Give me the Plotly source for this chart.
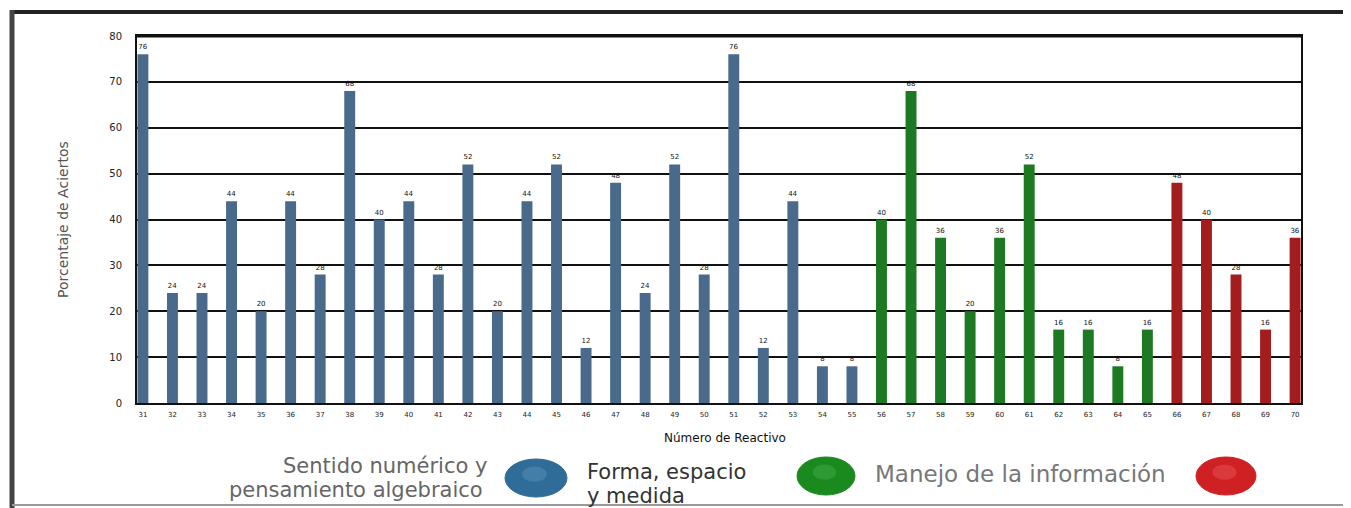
import plotly.graph_objects as go

# ---------------- data ----------------
item_labels = [str(n) for n in range(31, 71)]
blue_values = [76, 24, 24, 44, 20, 44, 28, 68, 40, 44, 28, 52, 20, 44, 52, 12, 48, 24, 52, 28,
               76, 12, 44, 8, 8]
green_values = [40, 68, 36, 20, 36, 52, 16, 16, 8, 16]
red_values = [48, 40, 28, 16, 36]
y_ticks = [0, 10, 20, 30, 40, 50, 60, 70, 80]

legend_lines = [["Sentido numérico y", "pensamiento algebraico"],
                ["Forma, espacio", "y medida"],
                ["Manejo de la información"]]

bar_colors = ["#4a6a8b", "#1e7a22", "#a31c1e"]
ball_colors = ["#2f6c97", "#1a8a1f", "#cf2024"]
ball_highlights = ["#5e95bd", "#47ad4b", "#e85a5d"]

# ---------------- geometry helpers ----------------
# page body has an 8px margin, so the figure starts at (8, 8) in the window
OFF = 8
W, H = 1351 - OFF, 508 - OFF
PLOT_L, PLOT_R, PLOT_T, PLOT_B = 137, 1301, 36, 403   # window pixels
ML = PLOT_L - OFF
MT = PLOT_T - OFF
MR = W - (PLOT_R - OFF)
MB = H - (PLOT_B - OFF)
PW, PH = PLOT_R - PLOT_L, PLOT_B - PLOT_T


def px(x):
    return (x - PLOT_L) / PW


def py(y):
    return (PLOT_B - y) / PH


fig = go.Figure()

series = [blue_values, green_values, red_values]
start = 0
for vals, col in zip(series, bar_colors):
    xs = list(range(start, start + len(vals)))
    fig.add_trace(go.Bar(
        x=xs, y=vals, width=0.37,
        marker=dict(color=col, line=dict(width=0)),
        text=[str(v) for v in vals], textposition="outside",
        textfont=dict(size=7, color="#111", family="DejaVu Sans"),
        cliponaxis=False, showlegend=False,
    ))
    start += len(vals)

n_items = start

fig.update_layout(
    width=W, height=H,
    margin=dict(l=ML, r=MR, t=MT, b=MB, pad=0),
    paper_bgcolor="white", plot_bgcolor="white",
    font=dict(family="DejaVu Sans", color="#222"),
    xaxis=dict(
        range=[-0.2, n_items - 0.8],
        tickmode="array", tickvals=list(range(n_items)), ticktext=item_labels,
        tickfont=dict(size=7, color="#222"),
        showgrid=False, zeroline=False,
        showline=True, linecolor="#111", linewidth=2, mirror=True,
        ticks="", ticklabelstandoff=4,
    ),
    yaxis=dict(
        range=[0, 80], tickmode="array", tickvals=y_ticks,
        tickfont=dict(size=10, color="#222"),
        showgrid=True, gridcolor="#111", gridwidth=2,
        zeroline=False,
        showline=True, linecolor="#111", linewidth=2, mirror=True,
        ticks="", ticklabelstandoff=11,
    ),
)

shapes = []
# outer frame
shapes.append(dict(type="line", xref="paper", yref="paper",
                   x0=px(10), x1=px(1351), y0=py(12), y1=py(12),
                   line=dict(color="#222", width=4)))
shapes.append(dict(type="line", xref="paper", yref="paper",
                   x0=px(12), x1=px(12), y0=py(10), y1=py(508),
                   line=dict(color="#444", width=5)))
shapes.append(dict(type="line", xref="paper", yref="paper",
                   x0=px(12), x1=px(1351), y0=py(505), y1=py(505),
                   line=dict(color="#999", width=2)))
# thicker top plot border
shapes.append(dict(type="line", xref="paper", yref="paper",
                   x0=0, x1=1, y0=1, y1=1,
                   line=dict(color="#111", width=3)))

# legend balls
ball_pos = [(536, 478, 31, 19), (826, 476, 29, 19), (1226, 476, 30, 19)]
for (cx, cy, rx, ry), c, hc in zip(ball_pos, ball_colors, ball_highlights):
    shapes.append(dict(type="circle", xref="paper", yref="paper",
                       x0=px(cx - rx), x1=px(cx + rx), y0=py(cy + ry), y1=py(cy - ry),
                       fillcolor=c, line=dict(color=c, width=1)))
    shapes.append(dict(type="circle", xref="paper", yref="paper",
                       x0=px(cx - rx * 0.45), x1=px(cx + rx * 0.35),
                       y0=py(cy + ry * 0.2), y1=py(cy - ry * 0.6),
                       fillcolor=hc, opacity=0.45, line=dict(width=0)))
fig.update_layout(shapes=shapes)


def note(text, x, y, size, color, xanchor="center", angle=0):
    return dict(text=text, x=px(x), y=py(y), xref="paper", yref="paper",
                xanchor=xanchor, yanchor="middle", textangle=angle, borderpad=0,
                showarrow=False, font=dict(size=size, color=color))


annotations = [
    note("Porcentaje de Aciertos", 63, 220, 14, "#555", angle=-90),
    note("Número de Reactivo", 725, 438, 12, "#111"),
    note(legend_lines[0][0], 488, 466, 21, "#666", xanchor="right"),
    note(legend_lines[0][1], 484, 490, 21, "#666", xanchor="right"),
    note(legend_lines[1][0], 586, 472, 21, "#333", xanchor="left"),
    note(legend_lines[1][1], 586, 496, 21, "#333", xanchor="left"),
    note(legend_lines[2][0], 874, 474, 23, "#777", xanchor="left"),
]
fig.update_layout(annotations=annotations)

fig.write_html("out.html")
